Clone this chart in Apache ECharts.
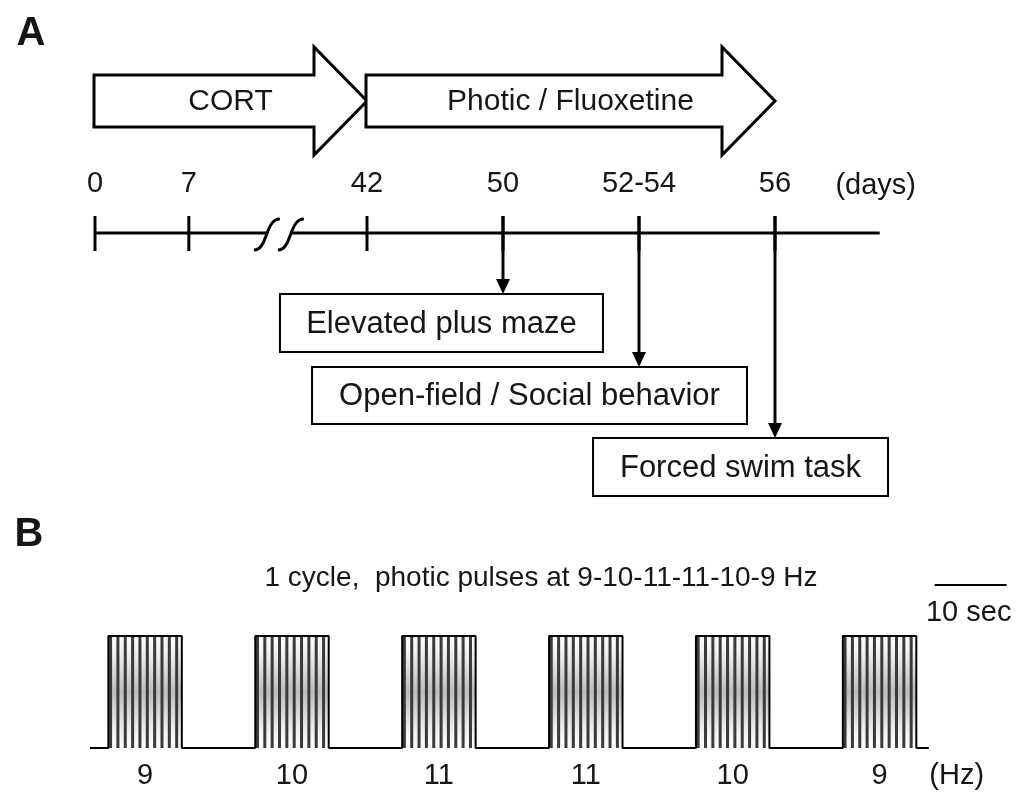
<!DOCTYPE html>
<html>
<head>
<meta charset="utf-8">
<script src="https://cdn.jsdelivr.net/npm/echarts@6/dist/echarts.min.js"></script>
<style>html,body{margin:0;padding:0;background:#fff}#c{width:1029px;height:792px}</style>
</head>
<body>
<div id="c"></div>
<script>
// ---------------- data ----------------
// Panel A: schematic (broken) time line
const timepointLabels = ['0', '7', '42', '50', '52-54', '56'];
const timepointSlots = [0, 0.69, 2, 3, 4, 5];          // schematic positions along the broken axis
const timelineEndSlot = 5.77;
const breakSlot = 1.345;
const phaseNames = ['CORT', 'Photic / Fluoxetine'];
const phaseStartSlot = [0, 2];
const phaseEndSlot = [2, 5];
const testNames = ['Elevated plus maze', 'Open-field / Social behavior', 'Forced swim task'];
const testTimepointIndex = [3, 4, 5];

// Panel B: one stimulation cycle (seconds)
const pulseFreqHz = [9, 10, 11, 11, 10, 9];
const pulseStartSec = [2.5, 22.5, 42.5, 62.5, 82.5, 102.5];
const pulseDurationSec = [10, 10, 10, 10, 10, 10];
const flashLinesPerPulse = [10, 10, 10, 10, 10, 10];
const traceEndSec = 114.2;
const scaleBarSec = [115.0, 124.8];
const scaleBarLabel = '10 sec';
const panelBTitle = '1 cycle,  photic pulses at 9-10-11-11-10-9 Hz';

// ---------------- layout / style ----------------
const FONT = '"Liberation Sans", Arial, Helvetica, sans-serif';
const W = 1029;
const SLOT0_PX = 95, PX_PER_SLOT = 136;
const A = {
  arrowY: 101, bodyHalf: 26, headHalf: 54, headLen: 53,
  labelY: 184, lineY: 233, tickTop: 216, tickBottom: 251,
  boxTop: [294, 367, 438], boxH: [58, 57, 58],
  boxLeftSlot: [1.36, 1.596, 3.662], boxRightSlot: [3.735, 4.794, 5.831]
};
const B = { left: 90, top: 636, height: 112, pxPerSec: 7.345, maxSec: 127 };

function txt(text, x, y, size, weight) {
  return {
    type: 'text',
    style: {
      text: text, x: x, y: y,
      font: (weight || 'normal') + ' ' + size + 'px ' + FONT,
      fill: '#161616',
      align: 'center', verticalAlign: 'middle',
      textAlign: 'center', textVerticalAlign: 'middle'
    }
  };
}

// ---- panel A renderers ----
function renderPhase(params, api) {
  const i = api.value(2);
  const a = api.coord([api.value(0), A.arrowY]);
  const b = api.coord([api.value(1), A.arrowY]);
  const x0 = a[0] - 1, x1 = b[0], y = a[1];
  const hx = x1 - A.headLen;
  const pts = [
    [x0, y - A.bodyHalf], [hx, y - A.bodyHalf], [hx, y - A.headHalf], [x1, y],
    [hx, y + A.headHalf], [hx, y + A.bodyHalf], [x0, y + A.bodyHalf]
  ];
  return {
    type: 'group',
    children: [
      { type: 'polygon', shape: { points: pts }, style: { fill: '#fff', stroke: '#000', lineWidth: 3, lineJoin: 'miter' } },
      txt(phaseNames[i], (x0 + x1) / 2, y + 1, 30)
    ]
  };
}

function renderTimeline(params, api) {
  const s = api.coord([api.value(0), A.lineY]);
  const e = api.coord([api.value(1), A.lineY]);
  const br = api.coord([api.value(2), A.lineY]);
  const y = s[1], bx = br[0];
  const c1 = bx - 11, c2 = bx + 13;
  const sCurve = function (c) {
    return 'M' + (c - 13) + ' ' + (y + 17) + ' C' + (c + 1) + ' ' + (y + 17) + ' ' + (c - 2) + ' ' + (y - 14) + ' ' + (c + 13) + ' ' + (y - 14);
  };
  const st = { stroke: '#000', lineWidth: 3, fill: null };
  return {
    type: 'group',
    children: [
      { type: 'line', shape: { x1: s[0], y1: y, x2: c1, y2: y }, style: st },
      { type: 'line', shape: { x1: c2, y1: y, x2: e[0], y2: y }, style: st },
      { type: 'path', shape: { pathData: sCurve(c1) }, style: st },
      { type: 'path', shape: { pathData: sCurve(c2) }, style: st },
      txt('(days)', e[0] - 4, A.labelY + 2, 29)
    ]
  };
}

function renderTick(params, api) {
  const p = api.coord([api.value(0), A.lineY]);
  return {
    type: 'group',
    children: [
      { type: 'line', shape: { x1: p[0], y1: A.tickTop, x2: p[0], y2: A.tickBottom }, style: { stroke: '#000', lineWidth: 3 } },
      txt(timepointLabels[api.value(1)], p[0], A.labelY, 29)
    ]
  };
}

function renderTest(params, api) {
  const i = api.value(1);
  const p = api.coord([api.value(0), A.lineY]);
  const top = A.boxTop[i], h = A.boxH[i];
  const l = api.coord([A.boxLeftSlot[i], top])[0];
  const r = api.coord([A.boxRightSlot[i], top])[0];
  return {
    type: 'group',
    children: [
      { type: 'line', shape: { x1: p[0], y1: A.tickTop, x2: p[0], y2: top - 12 }, style: { stroke: '#000', lineWidth: 3 } },
      { type: 'polygon', shape: { points: [[p[0] - 7, top - 15], [p[0] + 7, top - 15], [p[0], top]] }, style: { fill: '#000' } },
      { type: 'rect', shape: { x: l, y: top, width: r - l, height: h }, style: { fill: '#fff', stroke: '#000', lineWidth: 2 } },
      txt(testNames[i], (l + r) / 2, top + h / 2 + 1, 31)
    ]
  };
}

// ---- panel B renderers ----
function renderPulse(params, api) {
  const s = api.value(0), d = api.value(1), n = api.value(2), f = api.value(3);
  const tl = api.coord([s, 1]), br = api.coord([s + d, 0]);
  const kids = [{
    type: 'rect',
    shape: { x: tl[0], y: tl[1], width: br[0] - tl[0], height: br[1] - tl[1] },
    style: {
      fill: new echarts.graphic.LinearGradient(0, 0, 0, 1, [
        { offset: 0, color: '#ffffff' }, { offset: 0.15, color: '#f0f0f0' },
        { offset: 0.5, color: '#bdbdbd' }, { offset: 0.85, color: '#f0f0f0' }, { offset: 1, color: '#ffffff' }
      ])
    }
  }];
  for (let k = 0; k < n; k++) {
    const x = api.coord([s + (k + 0.3) * d / n, 0])[0];
    kids.push({ type: 'line', shape: { x1: x, y1: tl[1], x2: x, y2: br[1] }, style: { stroke: '#3a3a3a', lineWidth: 3 } });
  }
  kids.push(txt(String(f), (tl[0] + br[0]) / 2, br[1] + 28, 29));
  return { type: 'group', children: kids };
}

function renderScale(params, api) {
  const a = api.coord([api.value(0), 1]);
  const b = api.coord([api.value(1), 1]);
  const base = api.coord([api.value(2), 0]);
  return {
    type: 'group',
    children: [
      { type: 'line', shape: { x1: a[0], y1: a[1] - 51, x2: b[0], y2: a[1] - 51 }, style: { stroke: '#000', lineWidth: 2 } },
      txt(scaleBarLabel, (a[0] + b[0]) / 2 - 2, a[1] - 23, 29),
      txt('(Hz)', base[0], base[1] + 28, 29)
    ]
  };
}

// trace (outline) of the pulse train
const tracePoints = [[0, 0]];
pulseStartSec.forEach(function (s, i) {
  const e = s + pulseDurationSec[i];
  tracePoints.push([s, 0], [s, 1], [e, 1], [e, 0]);
});
tracePoints.push([traceEndSec, 0]);

const hiddenAxis = { show: false, axisLine: { show: false }, axisTick: { show: false }, axisLabel: { show: false }, splitLine: { show: false } };

const chart = echarts.init(document.getElementById('c'), null, { renderer: 'canvas' });
chart.setOption({
  animation: false,
  backgroundColor: '#fff',
  grid: [
    { left: 0, top: 0, width: W, height: 520 },
    { left: B.left, top: B.top, height: B.height, width: B.maxSec * B.pxPerSec }
  ],
  xAxis: [
    Object.assign({ type: 'value', gridIndex: 0, min: -SLOT0_PX / PX_PER_SLOT, max: (W - SLOT0_PX) / PX_PER_SLOT }, hiddenAxis),
    Object.assign({ type: 'value', gridIndex: 1, min: 0, max: B.maxSec }, hiddenAxis)
  ],
  yAxis: [
    Object.assign({ type: 'value', gridIndex: 0, min: 0, max: 520, inverse: true }, hiddenAxis),
    Object.assign({ type: 'value', gridIndex: 1, min: 0, max: 1 }, hiddenAxis)
  ],
  graphic: [
    txt('A', 31, 34, 40, 'bold'),
    txt('B', 29, 535, 40, 'bold'),
    txt(panelBTitle, 541, 578, 28)
  ],
  series: [
    { type: 'custom', name: 'timeline', xAxisIndex: 0, yAxisIndex: 0, renderItem: renderTimeline,
      data: [[timepointSlots[0], timelineEndSlot, breakSlot]], z: 2 },
    { type: 'custom', name: 'ticks', xAxisIndex: 0, yAxisIndex: 0, renderItem: renderTick,
      data: timepointSlots.map(function (s, i) { return [s, i]; }), z: 3 },
    { type: 'custom', name: 'tests', xAxisIndex: 0, yAxisIndex: 0, renderItem: renderTest,
      data: testNames.map(function (n, i) { return [timepointSlots[testTimepointIndex[i]], i]; }), z: 3 },
    { type: 'custom', name: 'phases', xAxisIndex: 0, yAxisIndex: 0, renderItem: renderPhase,
      data: phaseNames.map(function (n, i) { return [phaseStartSlot[i], phaseEndSlot[i], i]; }), z: 4 },
    { type: 'custom', name: 'pulses', xAxisIndex: 1, yAxisIndex: 1, renderItem: renderPulse,
      data: pulseStartSec.map(function (s, i) { return [s, pulseDurationSec[i], flashLinesPerPulse[i], pulseFreqHz[i]]; }), z: 2 },
    { type: 'line', name: 'trace', xAxisIndex: 1, yAxisIndex: 1, data: tracePoints, symbol: 'none', clip: false,
      lineStyle: { color: '#000', width: 2 }, z: 5, silent: true },
    { type: 'custom', name: 'scale', xAxisIndex: 1, yAxisIndex: 1, renderItem: renderScale,
      data: [[scaleBarSec[0], scaleBarSec[1], 118.0]], z: 5 }
  ]
});
</script>
</body>
</html>
